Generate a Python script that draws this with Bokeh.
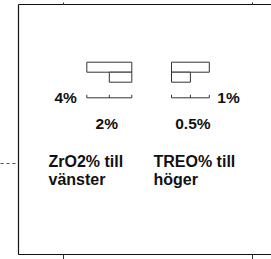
from bokeh.plotting import figure
from bokeh.models import (Range1d, FixedTicker, LinearAxis, ColumnDataSource,
                          GlobalInlineStyleSheet, CustomJSTickFormatter)
from bokeh.core.properties import value
from bokeh.embed import file_html
from bokeh.resources import INLINE

# ---------------- data ----------------
zr_bars = [4, 2]              # ZrO2 % legend bars (drawn to the left)
treo_bars = [1, 0.5]          # TREO % legend bars (drawn to the right)
zr_scale_ticks = [0, 2, 4]
treo_scale_ticks = [0, 0.5, 1]
zr_scale_labels = ["4%", "2%"]
treo_scale_labels = ["1%", "0.5%"]
captions = ["ZrO2% till\nvänster", "TREO% till\nhöger"]
x_axis_ticks = [45, 234]
y_axis_ticks = [159]

# ---------------- layout constants ----------------
W, H = 271, 259
FRAME_L, FRAME_T, FRAME_B = 18, 4, 5
FW = W - FRAME_L
FH = H - FRAME_T - FRAME_B
ZR_ORIGIN, ZR_PX = 113.3, 11.25      # px from frame left, px per %
TR_ORIGIN, TR_PX = 153.0, 37.8
BAR_Y = [62.7, 72.7]
BAR_H = 10
SCALE_Y = 93.3
SCALE_TICK = 3
LABEL_Y1, LABEL_Y2 = 93.0, 119.3
CAPTION_X = [30, 135]
CAPTION_Y = 148
FONT = "Liberation Sans"

p = figure(width=W, height=H, output_backend="svg", toolbar_location=None,
           x_range=Range1d(0, FW), y_range=Range1d(FH, 0),
           x_axis_location=None, y_axis_location=None,
           min_border_left=FRAME_L, min_border_top=FRAME_T,
           min_border_bottom=FRAME_B, min_border_right=0)
p.outline_line_color = None
p.xgrid.grid_line_color = None
p.ygrid.grid_line_color = None
p.background_fill_color = "white"
p.border_fill_color = "white"
p.stylesheets = [GlobalInlineStyleSheet(css="html, body {margin:0 !important; padding:0; overflow:hidden;}")]

p.extra_x_ranges = {
    "zr": Range1d(ZR_ORIGIN / ZR_PX, (ZR_ORIGIN - FW) / ZR_PX),
    "treo": Range1d(-TR_ORIGIN / TR_PX, (FW - TR_ORIGIN) / TR_PX),
}

empty = CustomJSTickFormatter(code="return ''")

def mk_axis(ticks, out, **kw):
    ax = LinearAxis(ticker=FixedTicker(ticks=ticks), major_tick_out=out, major_tick_in=0,
                    minor_tick_line_color=None, major_label_text_font_size="0px",
                    major_label_standoff=0, formatter=empty,
                    axis_line_color="#111111", axis_line_width=1.2, **kw)
    return ax

p.add_layout(mk_axis(x_axis_ticks, 5, major_tick_line_color="#333333"), "below")
p.add_layout(mk_axis(x_axis_ticks, 2, major_tick_line_color="#333333"), "above")
p.add_layout(mk_axis(y_axis_ticks, FRAME_L, major_tick_line_color="#555555",
                     major_tick_line_dash="3 3"), "left")

bar_style = dict(fill_color="white", line_color="#333333", line_width=1)

# ZrO2 bars (to the left)
p.hbar(y=BAR_Y, left=0, right=zr_bars, height=BAR_H, x_range_name="zr", **bar_style)
# TREO bars (to the right)
p.hbar(y=BAR_Y, left=0, right=treo_bars, height=BAR_H, x_range_name="treo", **bar_style)

# scale bars
for name, ticks in (("zr", zr_scale_ticks), ("treo", treo_scale_ticks)):
    p.segment(x0=[min(ticks)], x1=[max(ticks)], y0=[SCALE_Y], y1=[SCALE_Y],
              line_color="#333333", line_width=1, x_range_name=name)
    p.segment(x0=ticks, x1=ticks, y0=[SCALE_Y] * len(ticks), y1=[SCALE_Y - SCALE_TICK] * len(ticks),
              line_color="#333333", line_width=1, x_range_name=name)

num_style = dict(text_font=value(FONT), text_font_style="bold", text_font_size="15.5px",
                 text_color="#111111", text_baseline="middle")
p.text(x=[zr_scale_ticks[-1]], y=[LABEL_Y1], text=[zr_scale_labels[0]], x_offset=-10,
       text_align="right", x_range_name="zr", **num_style)
p.text(x=[zr_scale_ticks[1]], y=[LABEL_Y2], text=[zr_scale_labels[1]], x_offset=-2.5,
       text_align="center", x_range_name="zr", **num_style)
p.text(x=[treo_scale_ticks[-1]], y=[LABEL_Y1], text=[treo_scale_labels[0]], x_offset=8,
       text_align="left", x_range_name="treo", **num_style)
p.text(x=[treo_scale_ticks[1]], y=[LABEL_Y2], text=[treo_scale_labels[1]], x_offset=2.5,
       text_align="center", x_range_name="treo", **num_style)

p.text(x=CAPTION_X, y=[CAPTION_Y] * 2, text=captions, text_font=value(FONT),
       text_font_style="bold", text_font_size="16px", text_color="#111111",
       text_align="left", text_baseline="top", text_line_height=1.1)

open("out.html", "w").write(file_html(p, INLINE))
